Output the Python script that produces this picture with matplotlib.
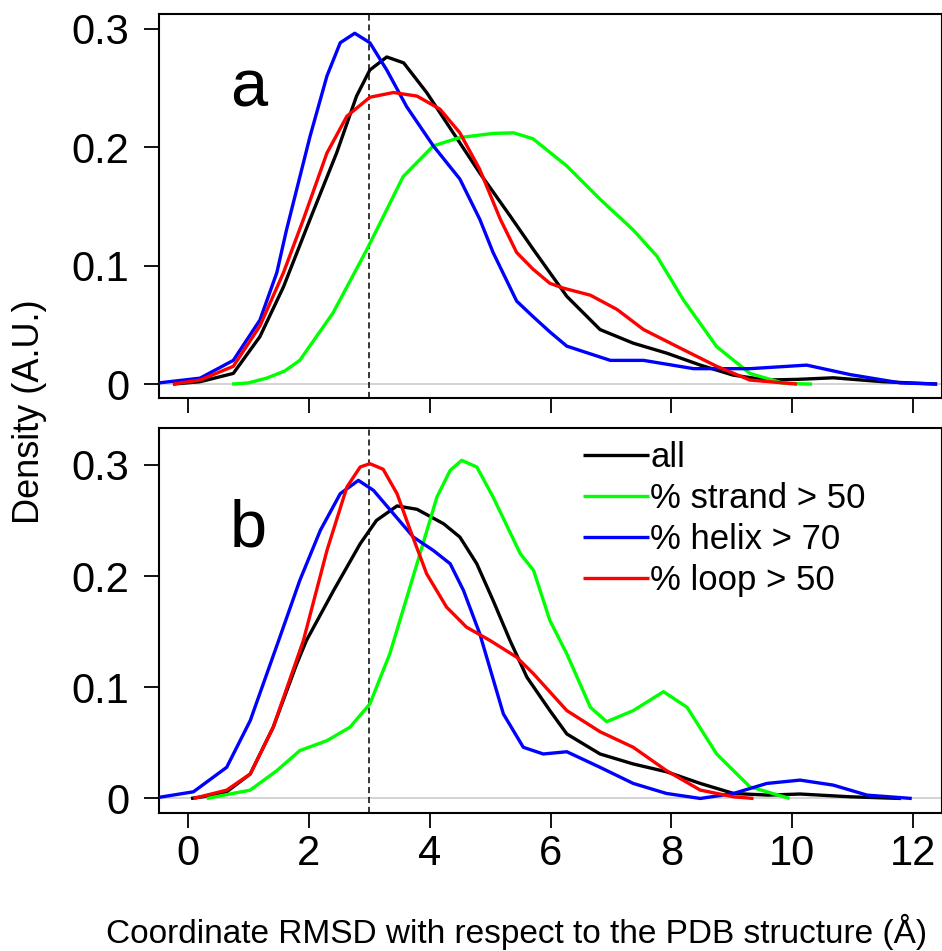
import matplotlib
matplotlib.use('Agg')
import matplotlib.pyplot as plt

plt.rcParams['font.family'] = ['Liberation Sans', 'DejaVu Sans']

# Panel a: density curves
all_a_x = [-0.25, 0.2, 0.75, 1.19, 1.58, 2.02, 2.46, 2.79, 3.01, 3.29, 3.57, 3.95, 4.39, 4.83, 5.33,
           5.71, 5.99, 6.27, 6.82, 7.37, 7.93, 8.48, 9.02, 9.58, 10.1, 10.68, 11.5, 12.4]
all_a_y = [0, 0.002, 0.009, 0.040, 0.082, 0.139, 0.195, 0.243, 0.265, 0.276, 0.271, 0.246, 0.212, 0.178, 0.142,
           0.114, 0.094, 0.074, 0.046, 0.0345, 0.026, 0.016, 0.0076, 0.0034, 0.004, 0.0053, 0.002, 0]

strand_a_x = [0.73, 1.0, 1.3, 1.6, 1.85, 2.4, 2.96, 3.21, 3.56, 4.06, 4.5, 5.05, 5.39, 5.71, 6.27,
              6.82, 7.37, 7.76, 8.2, 8.75, 9.3, 9.86, 10.33]
strand_a_y = [0, 0.001, 0.005, 0.011, 0.020, 0.060, 0.1135, 0.139, 0.175, 0.201, 0.208, 0.2115, 0.212, 0.207, 0.184,
              0.156, 0.130, 0.108, 0.071, 0.0316, 0.009, 0.0006, 0]

helix_a_x = [-0.48, 0.2, 0.75, 1.19, 1.47, 1.63, 2.02, 2.30, 2.52, 2.76, 3.01, 3.29, 3.62, 4.06, 4.5,
             4.83, 5.05, 5.44, 5.71, 5.99, 6.27, 6.99, 7.54, 8.37, 9.3, 10.24, 10.96, 11.79, 12.4]
helix_a_y = [0.001, 0.005, 0.020, 0.054, 0.094, 0.130, 0.209, 0.260, 0.288, 0.296, 0.288, 0.265, 0.234, 0.201, 0.173,
             0.139, 0.111, 0.070, 0.057, 0.044, 0.032, 0.020, 0.020, 0.013, 0.013, 0.016, 0.008, 0.001, 0]

loop_a_x = [-0.25, 0.2, 0.75, 1.19, 1.58, 1.91, 2.30, 2.63, 3.01, 3.4, 3.79, 4.17, 4.5, 4.83, 5.17,
            5.44, 5.71, 5.99, 6.21, 6.66, 7.1, 7.54, 8.2, 8.75, 9.3, 10.08]
loop_a_y = [0, 0.0034, 0.015, 0.049, 0.094, 0.139, 0.195, 0.226, 0.242, 0.246, 0.243, 0.232, 0.212, 0.181, 0.139,
            0.111, 0.097, 0.085, 0.081, 0.075, 0.063, 0.046, 0.029, 0.015, 0.0034, 0]

# Panel b
all_b_x = [0.05, 0.3, 0.64, 1.03, 1.41, 1.8, 1.96, 2.41, 2.85, 3.12, 3.46, 3.79, 4.23, 4.5, 4.78, 5.05,
           5.33, 5.61, 5.99, 6.27, 6.82, 7.37, 7.92, 8.48, 9.03, 9.6, 10.13, 10.96, 11.8]
all_b_y = [0, 0.002, 0.006, 0.022, 0.064, 0.121, 0.142, 0.187, 0.229, 0.250, 0.263, 0.260, 0.247, 0.235, 0.211, 0.178,
           0.142, 0.109, 0.079, 0.058, 0.040, 0.031, 0.024, 0.0135, 0.0045, 0.003, 0.004, 0.0015, 0]

strand_b_x = [0.31, 1.03, 1.47, 1.85, 2.3, 2.68, 3.01, 3.34, 3.79, 4.12, 4.34, 4.53, 4.78, 5.05, 5.5,
              5.72, 5.99, 6.27, 6.66, 6.93, 7.37, 7.87, 8.26, 8.75, 9.3, 9.96]
strand_b_y = [0, 0.0075, 0.025, 0.043, 0.052, 0.064, 0.085, 0.130, 0.211, 0.271, 0.295, 0.304, 0.298, 0.271, 0.220,
              0.205, 0.160, 0.130, 0.082, 0.069, 0.079, 0.096, 0.082, 0.040, 0.0105, 0]

helix_b_x = [-0.48, 0.09, 0.64, 1.03, 1.52, 1.85, 2.19, 2.52, 2.82, 3.07, 3.4, 3.73, 4.06, 4.34, 4.56,
             4.83, 5.22, 5.55, 5.88, 6.27, 6.82, 7.37, 7.92, 8.48, 9.03, 9.58, 10.13, 10.68, 11.24, 11.98]
helix_b_y = [0.001, 0.006, 0.028, 0.070, 0.145, 0.196, 0.241, 0.274, 0.286, 0.277, 0.256, 0.235, 0.223, 0.211, 0.187,
             0.148, 0.076, 0.046, 0.040, 0.042, 0.028, 0.0135, 0.0045, 0, 0.0045, 0.0135, 0.0165, 0.012, 0.003, 0]

loop_b_x = [0.09, 0.64, 1.03, 1.41, 1.91, 2.30, 2.63, 2.85, 3.01, 3.23, 3.46, 3.68, 3.95, 4.28, 4.61,
            5.0, 5.44, 5.72, 6.27, 6.82, 7.37, 7.92, 8.48, 9.03, 9.36]
loop_b_y = [0, 0.0075, 0.022, 0.064, 0.142, 0.223, 0.280, 0.298, 0.301, 0.296, 0.274, 0.241, 0.202, 0.172, 0.154,
            0.142, 0.127, 0.112, 0.079, 0.060, 0.046, 0.025, 0.0075, 0.0015, 0]

labels = ['all', '% strand > 50', '% helix > 70', '% loop > 50']
colors = ['black', '#00ff00', '#0000ff', '#ff0000']
cutoff = 3

W, H = 942, 951
fig = plt.figure(figsize=(W / 100, H / 100), dpi=100)
ax_a = fig.add_axes([159 / W, 1 - 398.3 / H, (W - 159) / W, 384 / H])
ax_b = fig.add_axes([159 / W, 1 - 812.7 / H, (W - 159) / W, 384.4 / H])

panels = [
    (ax_a, [(all_a_x, all_a_y), (strand_a_x, strand_a_y), (helix_a_x, helix_a_y), (loop_a_x, loop_a_y)],
     (-0.012, 0.312), 'a', 0.234),
    (ax_b, [(all_b_x, all_b_y), (strand_b_x, strand_b_y), (helix_b_x, helix_b_y), (loop_b_x, loop_b_y)],
     (-0.0128, 0.3328), 'b', 0.2265),
]

for ax, curves, ylim, letter, ly in panels:
    ax.axhline(0, color='#c8c8c8', lw=1.1, zorder=1)
    ax.axvline(cutoff, color='black', lw=1.1, linestyle=(0, (4, 2.5)), zorder=2)
    for (x, y), c, lab in zip(curves, colors, labels):
        ax.plot(x, y, color=c, lw=2.4, label=lab, zorder=3, solid_capstyle='butt', solid_joinstyle='round')
    ax.set_xlim(-0.48, 12.48)
    ax.set_ylim(*ylim)
    ax.set_xticks(range(0, 13, 2))
    ax.set_yticks([0, 0.1, 0.2, 0.3])
    ax.set_yticklabels(['0', '0.1', '0.2', '0.3'])
    ax.tick_params(axis='both', direction='out', length=10.5, width=1.3, labelsize=30)
    ax.tick_params(axis='y', pad=11)
    ax.tick_params(axis='x', pad=5)
    for s in ax.spines.values():
        s.set_linewidth(1.5)
    ax.text(1.0, ly, letter, fontsize=48, ha='center', va='baseline')

ax_a.tick_params(axis='x', labelbottom=False)

ax_b.legend(loc='upper left', bbox_to_anchor=(0.541, 0.966), frameon=False, fontsize=25,
            handlelength=1.9, handletextpad=0.05, borderpad=0, borderaxespad=0, labelspacing=0.23)

fig.text(517 / W, 1 - 943 / H, 'Coordinate RMSD with respect to the PDB structure (Å)',
         fontsize=24, ha='center', va='baseline')
fig.text(30 / W, 1 - 412 / H, 'Density (A.U.)', fontsize=26, rotation=90, ha='center', va='center')

fig.savefig('out.png', dpi=100)
